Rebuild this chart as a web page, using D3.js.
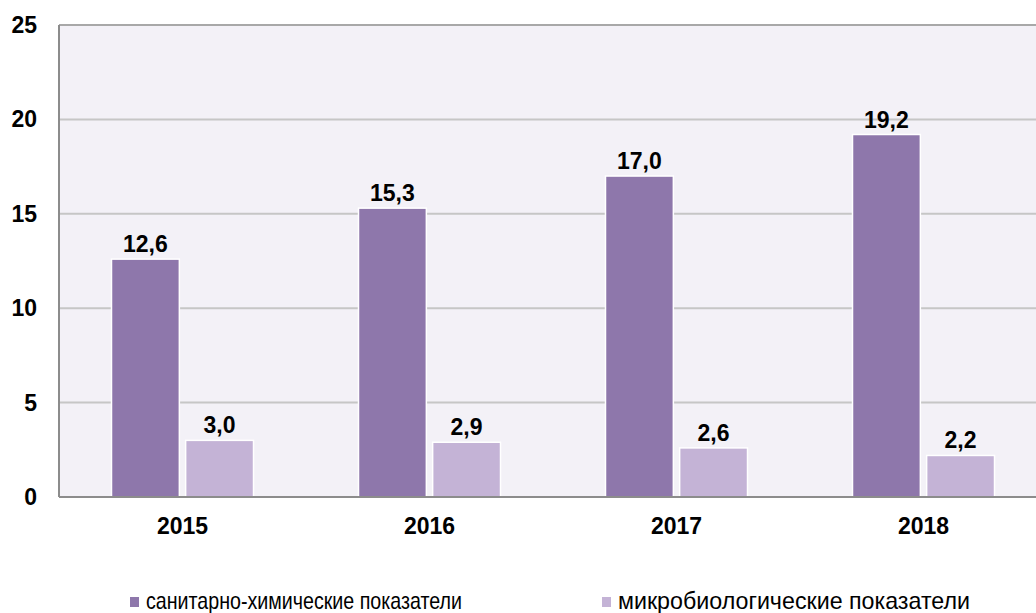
<!DOCTYPE html>
<html>
<head>
<meta charset="utf-8">
<script src="https://cdn.jsdelivr.net/npm/d3@7"></script>
<style>
  html, body { margin: 0; padding: 0; background: #ffffff; }
  svg { display: block; font-family: Arial, "Liberation Sans", sans-serif; }
</style>
</head>
<body>
<svg id="chart" width="1036" height="613"></svg>
<script>
// Data
const years = ["2015", "2016", "2017", "2018"];
const seriesNames = ["санитарно-химические показатели", "микробиологические показатели"];
const chemical = [12.6, 15.3, 17.0, 19.2];
const microbio = [3.0, 2.9, 2.6, 2.2];
const yTicks = [0, 5, 10, 15, 20, 25];
const colors = ["#8e77ab", "#c4b3d6"];

const rows = years.map((yr, i) => ({ year: yr, values: [chemical[i], microbio[i]] }));

const svg = d3.select("#chart");
const plotLeft = 59, plotTop = 25, plotBottom = 497, plotRight = 1047;

const x = d3.scaleBand().domain(years).range([plotLeft, plotRight]).paddingInner(0).paddingOuter(0);
const inner = d3.scaleBand().domain([0, 1]).range([52.5, x.bandwidth() - 52.5]).paddingInner(0.085);
const y = d3.scaleLinear().domain([0, 25]).range([plotBottom, plotTop]);

// Plot background
svg.append("rect")
  .attr("x", plotLeft).attr("y", plotTop)
  .attr("width", plotRight - plotLeft).attr("height", plotBottom - plotTop)
  .attr("fill", "#f3f1f7");

// Gridlines
svg.append("g")
  .selectAll("line")
  .data(yTicks.filter(t => t > 0))
  .join("line")
  .attr("x1", plotLeft).attr("x2", plotRight)
  .attr("y1", d => y(d)).attr("y2", d => y(d))
  .attr("stroke", d => d === 25 ? "#a8a8a8" : "#c6c6c6")
  .attr("stroke-width", 2);

// Bars
const groups = svg.append("g")
  .selectAll("g")
  .data(rows)
  .join("g")
  .attr("transform", d => `translate(${x(d.year)},0)`);

groups.selectAll("rect")
  .data(d => d.values.map((v, k) => ({ v, k })))
  .join("rect")
  .attr("x", d => inner(d.k))
  .attr("y", d => y(d.v))
  .attr("width", inner.bandwidth())
  .attr("height", d => y(0) - y(d.v))
  .attr("fill", d => colors[d.k])
  .attr("stroke", "#ffffff")
  .attr("stroke-width", 1.5);

// Value labels
groups.selectAll("text")
  .data(d => d.values.map((v, k) => ({ v, k })))
  .join("text")
  .attr("x", d => inner(d.k) + inner.bandwidth() / 2)
  .attr("y", d => y(d.v) - 7)
  .attr("text-anchor", "middle")
  .attr("font-size", 23)
  .attr("font-weight", "bold")
  .attr("fill", "#000")
  .text(d => d3.format(".1f")(d.v).replace(".", ","));

// Axis lines
svg.append("line")
  .attr("x1", plotLeft).attr("x2", plotLeft)
  .attr("y1", plotTop).attr("y2", plotBottom)
  .attr("stroke", "#8c8c8c").attr("stroke-width", 2);
svg.append("line")
  .attr("x1", plotLeft).attr("x2", plotRight)
  .attr("y1", plotBottom).attr("y2", plotBottom)
  .attr("stroke", "#8c8c8c").attr("stroke-width", 2);

// Y tick labels
svg.append("g")
  .selectAll("text")
  .data(yTicks)
  .join("text")
  .attr("x", 37)
  .attr("y", d => y(d))
  .attr("dy", "0.35em")
  .attr("text-anchor", "end")
  .attr("font-size", 23)
  .attr("font-weight", "bold")
  .text(d => d);

// X category labels
svg.append("g")
  .selectAll("text")
  .data(years)
  .join("text")
  .attr("x", d => x(d) + x.bandwidth() / 2)
  .attr("y", 526)
  .attr("dy", "0.35em")
  .attr("text-anchor", "middle")
  .attr("font-size", 23)
  .attr("font-weight", "bold")
  .text(d => d);

// Legend (narrow-set text)
const legendX = [130, 602];
const legendTextLen = [316, 352];
const legend = svg.append("g")
  .selectAll("g")
  .data(seriesNames)
  .join("g")
  .attr("transform", (d, i) => `translate(${legendX[i]},609)`);
legend.append("rect")
  .attr("x", 0).attr("y", -12)
  .attr("width", 9).attr("height", 10)
  .attr("fill", (d, i) => colors[i]);
legend.append("text")
  .attr("x", 16).attr("y", 0)
  .attr("font-size", 24)
  .attr("fill", "#000")
  .attr("textLength", (d, i) => legendTextLen[i])
  .attr("lengthAdjust", "spacingAndGlyphs")
  .text(d => d);
</script>
</body>
</html>
